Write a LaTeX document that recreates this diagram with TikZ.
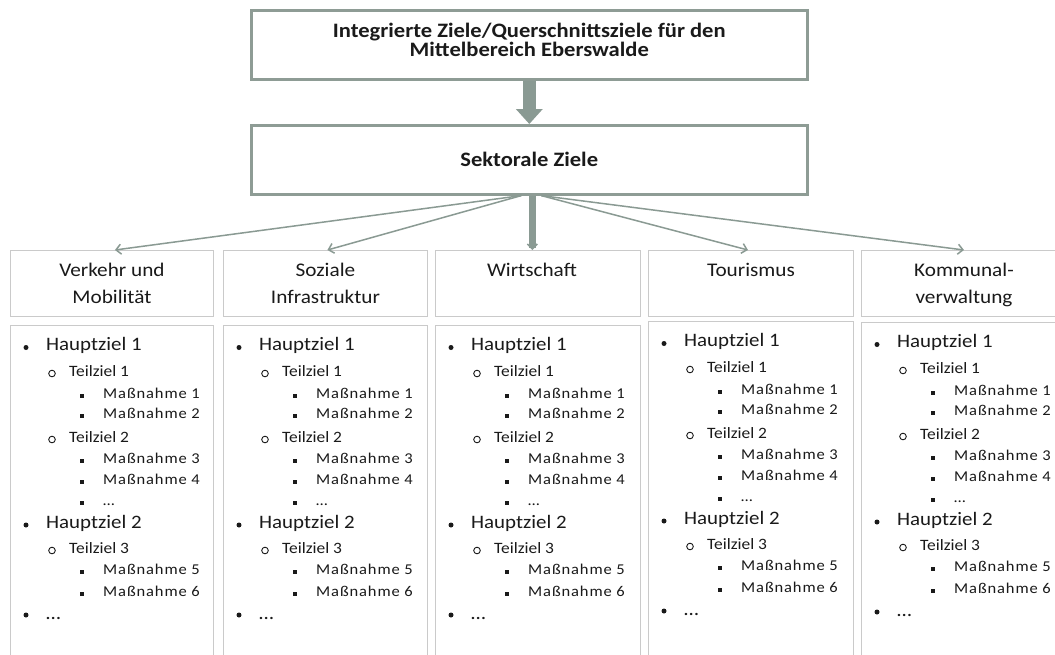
\documentclass[tikz,border=0pt]{standalone}
\usepackage{fontspec}
\setmainfont{Carlito}[FakeStretch=1.1]
\newfontfamily\massfont{Carlito}[FakeStretch=1.1,LetterSpace=6]
\usetikzlibrary{arrows.meta,calc}
\definecolor{frame}{HTML}{8E9C95}
\definecolor{arrowc}{HTML}{8A9A93}
\definecolor{light}{HTML}{CACACA}
\definecolor{ink}{HTML}{1A1A1A}
\tikzset{
  bigbox/.style={draw=frame, line width=2.6pt, fill=white, anchor=north west, inner sep=0pt},
  catbox/.style={draw=light, line width=0.9pt, anchor=north west, inner sep=0pt},
  cattext/.style={anchor=north, align=center, text=ink, inner sep=0pt,
    font=\fontsize{19.3}{27}\selectfont},
  hz/.style={anchor=mid west, inner sep=0pt, text=ink, font=\fontsize{19}{22}\selectfont},
  tz/.style={anchor=mid west, inner sep=0pt, text=ink, font=\fontsize{15.8}{19}\selectfont},
  mz/.style={anchor=mid west, inner sep=0pt, text=ink, font=\massfont\fontsize{15}{17}\selectfont},
  thin/.style={draw=arrowc, line width=1.5pt, -{Straight Barb[length=5pt,width=10pt]}},
}
\newcommand\zielliste[4]{% #1 name, #2 left, #3 top, #4 width
  \begin{scope}[shift={(#2,#3)}]
    \node[catbox, minimum width=#4pt, minimum height=340pt] (#1) at (0,0) {};
    \begin{scope}[yshift=-4pt]
    \fill[ink] (16,18.5) circle (2.5);
    \node[hz] (#1-h1) at (36,19.5) {Hauptziel 1};
    \draw[ink, line width=0.9pt] (42,44.5) circle (3.3);
    \node[tz] (#1-t1) at (59,45) {Teilziel 1};
    \fill[ink] (70,64.8) rectangle +(4.4,4.4);
    \node[mz] (#1-m1) at (93,67) {Maßnahme 1};
    \fill[ink] (70,84.8) rectangle +(4.4,4.4);
    \node[mz] (#1-m2) at (93,87) {Maßnahme 2};
    \draw[ink, line width=0.9pt] (42,110.5) circle (3.3);
    \node[tz] (#1-t2) at (59,111) {Teilziel 2};
    \fill[ink] (70,129.8) rectangle +(4.4,4.4);
    \node[mz] (#1-m3) at (93,132) {Maßnahme 3};
    \fill[ink] (70,150.8) rectangle +(4.4,4.4);
    \node[mz] (#1-m4) at (93,153) {Maßnahme 4};
    \fill[ink] (70,171.8) rectangle +(4.4,4.4);
    \node[mz] (#1-m5) at (93,174) {…};
    \fill[ink] (16,196) circle (2.5);
    \node[hz] (#1-h2) at (36,197) {Hauptziel 2};
    \draw[ink, line width=0.9pt] (42,221.5) circle (3.3);
    \node[tz] (#1-t3) at (59,222) {Teilziel 3};
    \fill[ink] (70,240.8) rectangle +(4.4,4.4);
    \node[mz] (#1-m6) at (93,243) {Maßnahme 5};
    \fill[ink] (70,262.8) rectangle +(4.4,4.4);
    \node[mz] (#1-m7) at (93,265) {Maßnahme 6};
    \fill[ink] (16,286) circle (2.5);
    \node[hz] (#1-h3) at (36,288) {…};
    \end{scope}
  \end{scope}}
\begin{document}
\begin{tikzpicture}[x=1pt,y=-1pt]
\useasboundingbox[fill=white] (0,0) rectangle (1055,654);

% top boxes
\node[bigbox, minimum width=556pt, minimum height=69pt] (top) at (250,9) {};
\node[align=center, text=ink, inner sep=0pt, font=\bfseries\fontsize{20.5}{18.5}\selectfont] (toptext) at ($(top.center)+(0,-5)$)
  {Integrierte Ziele/Querschnittsziele für den\\Mittelbereich Eberswalde};
\node[bigbox, minimum width=556pt, minimum height=69pt] (sek) at (250,124) {};
\node[text=ink, font=\bfseries\fontsize{20.5}{20}\selectfont] (sektext) at (sek.center) {Sektorale Ziele};

\draw[arrowc, line width=13pt, -{Triangle[length=15pt,width=26pt]}] (top.south) -- (sek.north);

% category boxes
\node[catbox, minimum width=203pt, minimum height=66pt] (c1) at (10,250) {};
\node[catbox, minimum width=204pt, minimum height=66pt] (c2) at (223,250) {};
\node[catbox, minimum width=205pt, minimum height=66pt] (c3) at (435,250) {};
\node[catbox, minimum width=205pt, minimum height=66pt] (c4) at (648,250) {};
\node[catbox, minimum width=205pt, minimum height=66pt] (c5) at (861,250) {};
\node[cattext] (t1) at ($(c1.north)+(0,13)$) {Verkehr und\\Mobilität};
\node[cattext] (t2) at ($(c2.north)+(0,13)$) {Soziale\\Infrastruktur};
\node[cattext] (t3) at ($(c3.north)+(-6,13)$) {Wirtschaft};
\node[cattext] (t4) at ($(c4.north)+(0,13)$) {Tourismus};
\node[cattext] (t5) at ($(c5.north)+(0,13)$) {Kommunal-\\verwaltung};

% connectors
\coordinate (oL) at ($(sek.south)+(-8,0)$);
\coordinate (oM) at ($(sek.south)+(3,0)$);
\coordinate (oR) at ($(sek.south)+(12,0)$);
\draw[thin] (oL) -- ($(c1.north)+(3,0)$);
\draw[thin] (oL) -- ($(c2.north)+(2,0)$);
\draw[thin] (oR) -- ($(c4.north)+(-3,0)$);
\draw[thin] (oR) -- ($(c5.north)+(0,0)$);
\draw[draw=arrowc, line width=7pt, -{Straight Barb[length=5pt,width=10pt,line width=1.5pt]}] (oM) -- (oM |- c3.north);

% lists
\zielliste{l1}{10}{325}{203}
\zielliste{l2}{223}{325}{204}
\zielliste{l3}{435}{325}{205}
\zielliste{l4}{648}{321}{205}
\zielliste{l5}{861}{322}{205}
\end{tikzpicture}
\end{document}
